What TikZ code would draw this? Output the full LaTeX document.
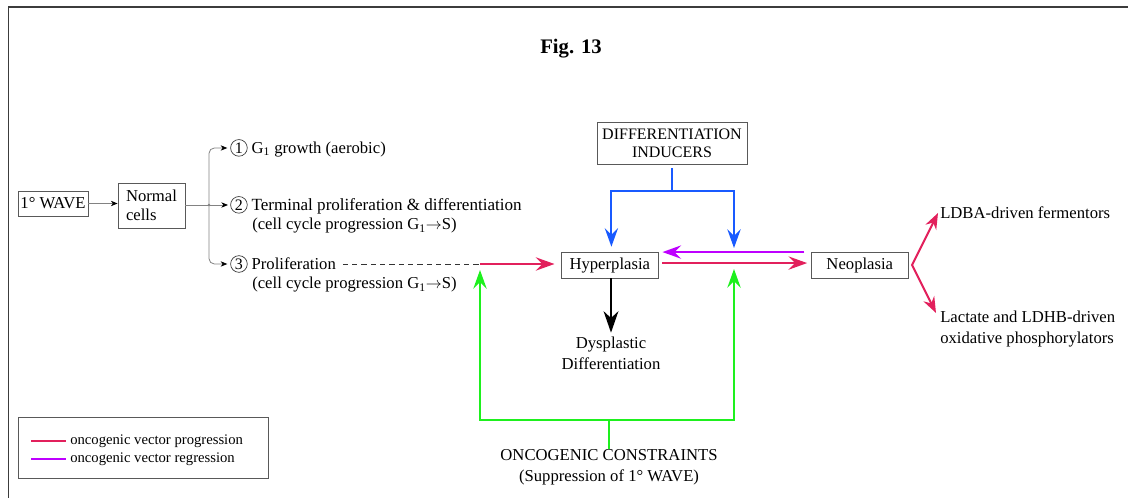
\documentclass[tikz,border=0pt]{standalone}
\usepackage{fontspec}
\setmainfont{Liberation Serif}
\usetikzlibrary{arrows.meta}
\definecolor{prog}{RGB}{226,32,92}
\definecolor{regr}{RGB}{190,0,255}
\definecolor{induc}{RGB}{25,90,255}
\definecolor{constr}{RGB}{30,240,30}
\definecolor{gline}{RGB}{130,130,130}
\definecolor{frame}{RGB}{60,60,60}
\newcommand{\circnum}[1]{\tikz[baseline=(c.base)]\node[draw=black!80,circle,line width=0.5pt,inner sep=0pt,minimum size=12.5pt,font=\fontsize{12}{12}\selectfont](c){#1};\hspace{3pt}}
\begin{document}
\begin{tikzpicture}[x=0.75pt,y=-0.75pt,
  box/.style={draw=black!65, line width=0.6pt, fill=white, inner sep=0pt, align=center, font=\fontsize{12.5}{14}\selectfont},
  txt/.style={inner sep=0pt, anchor=west, align=left, font=\fontsize{12.5}{16}\selectfont},
  ctxt/.style={inner sep=0pt, align=center, font=\fontsize{12.5}{16}\selectfont},
  small/.style={gline, line width=0.6pt, -{Stealth[length=5pt,width=4pt,inset=1.5pt,black]}},
  big/.style={line width=1.5pt, -{Stealth[length=14pt,width=10pt,inset=5pt]}},
  plain/.style={line width=1.5pt},
]
\useasboundingbox (0,0) rectangle (1128,498);
% frame
\draw[frame, line width=0.9pt] (8.5,498) -- (8.5,7) -- (1128,7);
% title
\node[inner sep=0pt, font=\fontsize{15.5}{18}\bfseries] (title) at (571,49) {Fig. 13};

% boxes
\node[box, minimum width=52.5pt, minimum height=18.75pt] (wave) at (53,203.5) {1° WAVE};
\node[box, minimum width=50.25pt, minimum height=33.75pt, align=left] (normal) at (151.5,205.5) {Normal\\cells};
\node[box, minimum width=112.5pt, minimum height=31.5pt, font=\fontsize{12}{13.5}\selectfont] (induc) at (672,143) {DIFFERENTIATION\\INDUCERS};
\node[box, minimum width=72.4pt, minimum height=19.1pt] (hyper) at (609.8,265.2) {Hyperplasia};
\node[box, minimum width=72.4pt, minimum height=19.1pt] (neo) at (859.8,265.2) {Neoplasia};

% texts
\node[txt] (t1) at (230,148) {\circnum{1}G\textsubscript{1} growth (aerobic)};
\node[txt, font=\fontsize{12.8}{16}\selectfont] (t2) at (230,205) {\circnum{2}Terminal proliferation \& differentiation};
\node[txt] (t2b) at (252,226) {(cell cycle progression G\textsubscript{1}$\rightarrow$S)};
\node[txt] (t3) at (230,264) {\circnum{3}Proliferation};
\node[txt] (t3b) at (252,285) {(cell cycle progression G\textsubscript{1}$\rightarrow$S)};
\node[ctxt] (dys) at (611,353.5) {Dysplastic\\Differentiation};
\node[ctxt] (cons) at (609,467.5) {ONCOGENIC CONSTRAINTS\\(Suppression of 1° WAVE)};
\node[txt] (ldba) at (940,213) {LDBA-driven fermentors};
\node[txt] (lact) at (940,329) {Lactate and LDHB-driven\\oxidative phosphorylators};

% coordinates
\coordinate (br) at (209,205);
\coordinate (pj) at (480,264);
\coordinate (bj) at (672,191);
\coordinate (gL) at (480,420);
\coordinate (gR) at (734,420);
\coordinate (gS) at (609,420);
\coordinate (bt) at (734,248);
\coordinate (gt) at (734,269);
\coordinate (nv) at (912,265);
\coordinate (tipA) at (938,213);
\coordinate (tipB) at (936,313);

% left flow
\draw[small] (wave.east) -- (wave.east -| normal.west);
\draw[gline, line width=0.6pt] (normal.east |- br) -- (br);
\fill[gline] (br) circle (1pt);
\draw[small] (br) -- ([xshift=-1.5pt]t2.west);
\draw[small, rounded corners=4pt] (br) -- (br |- t1.west) -- ([xshift=-2pt]t1.west);
\draw[small, rounded corners=4pt] (br) -- (br |- t3.west) -- ([xshift=-2pt]t3.west);

% dashed
\draw[black!80, line width=0.6pt, dash pattern=on 4pt off 3pt] ([xshift=5pt]t3.east) -- (pj);
% progression into hyperplasia
\draw[prog, big, shorten >=5pt] (pj) -- (hyper.west |- pj);
% hyper <-> neo
\draw[prog, big, shorten <=3pt, shorten >=3pt] ([yshift=1.6pt]hyper.east) -- ([yshift=1.6pt]neo.west);
\draw[regr, big, shorten <=5pt, shorten >=3pt] (neo.north west) -- (hyper.north east);
% dysplastic
\draw[black, line width=2.2pt, -{Stealth[length=16pt,width=11pt,inset=5pt]}, shorten >=3pt] (hyper.south -| dys) -- (dys.north);
% inducers
\draw[induc, plain, shorten <=3pt] (induc.south) -- (bj);
\draw[induc, big, shorten >=4pt] (bj) -| ([xshift=1.2pt]hyper.north);
\draw[induc, big] (bj) -| (bt);
% constraints
\draw[constr, plain] (cons.north -| gS) -- (gS);
\draw[constr, big, shorten >=4.5pt] (gS) -- (gL) -- (pj);
\draw[constr, big] (gS) -- (gR) -- (gt);
% neoplasia outputs
\draw[prog, line width=1.5pt, {Stealth[length=12pt,width=9pt,inset=4pt]}-{Stealth[length=12pt,width=9pt,inset=4pt]}] (tipA) -- (nv) -- (tipB);

% legend
\node[box, minimum width=187.5pt, minimum height=45.75pt] (legend) at (143,447.5) {};
\coordinate (l1a) at (31,441); \coordinate (l1b) at (66,441);
\coordinate (l2a) at (31,459); \coordinate (l2b) at (66,459);
\draw[prog, line width=1.3pt] (l1a) -- (l1b);
\draw[regr, line width=1.3pt] (l2a) -- (l2b);
\node[txt, font=\fontsize{11}{12}\selectfont] (lg1) at (70,441) {oncogenic vector progression};
\node[txt, font=\fontsize{11}{12}\selectfont] (lg2) at (70,459) {oncogenic vector regression};
\end{tikzpicture}
\end{document}
